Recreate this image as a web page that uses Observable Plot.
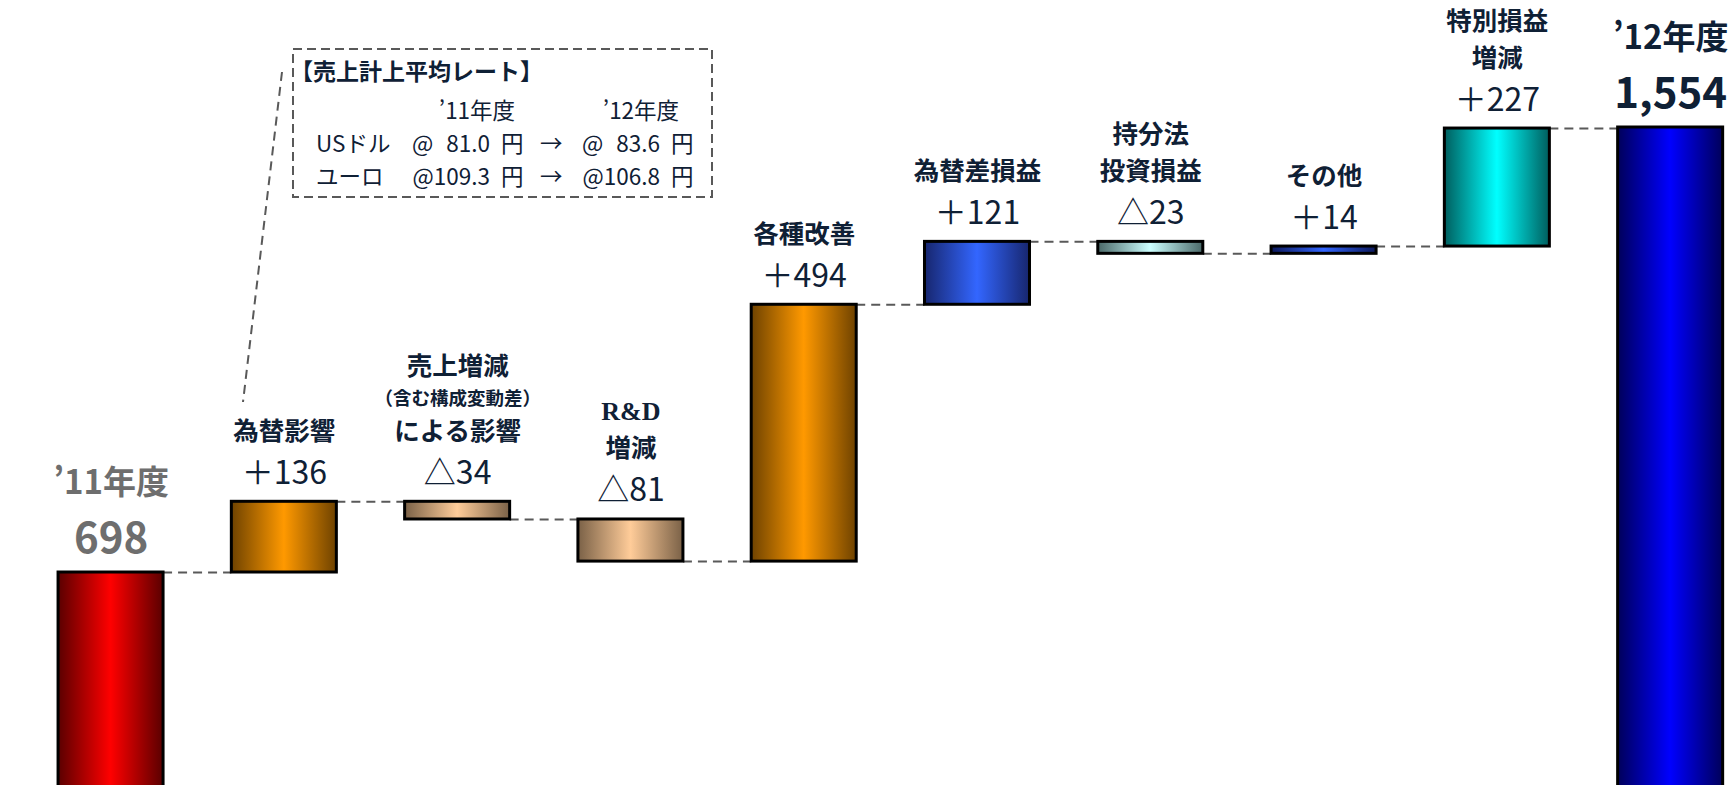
<!DOCTYPE html>
<html lang="ja">
<head>
<meta charset="utf-8">
<script src="https://cdn.jsdelivr.net/npm/d3@7"></script>
<script src="https://cdn.jsdelivr.net/npm/@observablehq/plot@0.6"></script>
<style>
  html, body { margin: 0; padding: 0; background: #fff; }
  #chart svg { display: block; }
</style>
</head>
<body>
<div id="chart"></div>
<script>
// ---- data ----
const startLabel = "’11年度";
const endLabel = "’12年度";
const startTotal = 698;
const endTotal = 1554;
const stepLabelLines = [
  ["為替影響"],
  ["売上増減", "（含む構成変動差）", "による影響"],
  ["R&D", "増減"],
  ["各種改善"],
  ["為替差損益"],
  ["持分法", "投資損益"],
  ["その他"],
  ["特別損益", "増減"]
];
const stepValues = [136, -34, -81, 494, 121, -23, 14, 227];

// annotation box texts
const boxTitle = "【売上計上平均レート】";
const boxYears = ["’11年度", "’12年度"];
const boxRows = [
  {name: "USドル", from: "81.0", to: "83.6"},
  {name: "ユーロ", from: "109.3", to: "106.8"}
];

// ---- styles ----
const barColors = [
  ["#5a0000", "#ff0000"],
  ["#6e4200", "#ff9900"],
  ["#7a6147", "#ffcc99"],
  ["#7a6147", "#ffcc99"],
  ["#6e4200", "#ff9900"],
  ["#17266e", "#3366ff"],
  ["#4a6868", "#ccffff"],
  ["#0c185a", "#3366ff"],
  ["#005e5e", "#00ffff"],
  ["#00005a", "#0000ff"]
];
const navy = "#0f2035";
const gray = "#6e6e6e";
const font = "'Noto Sans CJK JP', 'Noto Sans', sans-serif";
const serifFont = "'Liberation Serif', 'DejaVu Serif', serif";
const halfW = 0.303;

// ---- derived series ----
const rows = [];
let run = startTotal;
rows.push({i: 0, y1: 0, y2: startTotal, top: startTotal, end: startTotal, total: true, label: startLabel, color: gray});
stepValues.forEach((v, k) => {
  const s = run; run += v;
  rows.push({i: k + 1, y1: s, y2: run, top: Math.max(s, run), end: run, total: false, v});
});
rows.push({i: rows.length, y1: 0, y2: endTotal, top: endTotal, end: endTotal, total: true, label: endLabel, color: navy});
rows.forEach(r => { r.fill = `url(#grad${r.i})`; r.x1 = r.i - halfW; r.x2 = r.i + halfW; });

const connectors = rows.slice(0, -1).map(r => ({y: r.end, x1: r.i + halfW, x2: r.i + 1 - halfW}));
const stepRows = rows.filter(r => !r.total);
const totalRows = rows.filter(r => r.total);

const valueGap = 18, catGap = 44;
const lineRows = [];
stepRows.forEach((r, k) => {
  const lines = stepLabelLines[k];
  let off = -(valueGap + catGap);
  for (let j = lines.length - 1; j >= 0; j--) {
    const t = lines[j];
    const small = t.startsWith("（");
    const serif = /^[A-Za-z&]+$/.test(t);
    lineRows.push({i: r.i, top: r.top, text: t, off, small, serif});
    if (j > 0) {
      const nextSmall = lines[j - 1].startsWith("（");
      off -= nextSmall ? 35 : small ? 30 : 37;
    }
  }
});
const lineMarks = d3.groups(lineRows, d => `${d.off}|${d.small}|${d.serif}`).map(([key, data]) => {
  const d0 = data[0];
  return Plot.text(data, {
    x: "i", y: "top", text: "text", dy: d0.off, lineAnchor: "bottom",
    fontSize: d0.small ? 18.5 : d0.serif ? 26 : 25.5, fontWeight: "bold",
    fontFamily: d0.serif ? serifFont : font, fill: navy
  });
});

const fmtStep = v => v >= 0 ? `＋${v}` : `△${-v}`;

const chart = Plot.plot({
  width: 1736, height: 785,
  marginTop: 0, marginBottom: 0, marginLeft: 0, marginRight: 0,
  x: {domain: [-0.638, 9.38], axis: null},
  y: {domain: [288.3, 1798.3], axis: null},
  color: {type: "identity"},
  style: {background: "#fff"},
  marks: [
    Plot.ruleY(connectors, {y: "y", x1: "x1", x2: "x2", stroke: "#595959", strokeWidth: 2, strokeDasharray: "9,6"}),
    Plot.rectY(rows, {x1: "x1", x2: "x2", y1: "y1", y2: "y2", fill: "fill", stroke: "#000", strokeWidth: 3, clip: true}),
    Plot.text(stepRows, {x: "i", y: "top", text: d => fmtStep(d.v), dy: -valueGap, lineAnchor: "bottom", fontSize: 32, fontFamily: font, fill: navy}),
    ...lineMarks,
    Plot.text(totalRows, {x: "i", y: "top", text: d => d3.format(",")(d.y2), dy: -20, lineAnchor: "bottom", fontSize: 42, fontWeight: "bold", fontFamily: font, fill: "color"}),
    Plot.text(totalRows, {x: "i", y: "top", text: "label", dy: -79, lineAnchor: "bottom", fontSize: 33, fontWeight: "bold", fontFamily: font, fill: "color"})
  ]
});

// gradients
const svg = d3.select(chart);
const defs = svg.insert("defs", ":first-child");
rows.forEach(r => {
  const [dark, bright] = barColors[r.i];
  const g = defs.append("linearGradient").attr("id", `grad${r.i}`).attr("x1", "0").attr("x2", "1").attr("y1", "0").attr("y2", "0");
  g.append("stop").attr("offset", "0").attr("stop-color", dark);
  g.append("stop").attr("offset", "0.5").attr("stop-color", bright);
  g.append("stop").attr("offset", "1").attr("stop-color", dark);
});

// annotation box (rate note) with leader line
const ann = svg.append("g").attr("font-family", font).attr("fill", navy).attr("text-anchor", "start");
ann.append("line").attr("x1", 282).attr("y1", 72).attr("x2", 243).attr("y2", 402)
  .attr("stroke", "#595959").attr("stroke-width", 2).attr("stroke-dasharray", "9,6");
ann.append("rect").attr("x", 293).attr("y", 49).attr("width", 419).attr("height", 148)
  .attr("fill", "none").attr("stroke", "#595959").attr("stroke-width", 2).attr("stroke-dasharray", "9,5");
ann.append("text").attr("x", 290).attr("y", 80).attr("font-size", 23).attr("font-weight", "bold").attr("text-anchor", "start").text(boxTitle);
ann.append("text").attr("x", 477).attr("y", 119).attr("font-size", 22.5).attr("text-anchor", "middle").text(boxYears[0]);
ann.append("text").attr("x", 641).attr("y", 119).attr("font-size", 22.5).attr("text-anchor", "middle").text(boxYears[1]);
boxRows.forEach((r, k) => {
  const yb = 152 + k * 33;
  const at = (x, t, anchor = "start") => ann.append("text").attr("x", x).attr("y", yb).attr("font-size", 22.5).attr("text-anchor", anchor).text(t);
  at(316, r.name);
  if (r.from.length < 5) { at(412, "@"); at(490, r.from, "end"); } else { at(490, "@" + r.from, "end"); }
  at(501, "円");
  at(540, "→");
  if (r.to.length < 5) { at(582, "@"); at(660, r.to, "end"); } else { at(660, "@" + r.to, "end"); }
  at(671, "円");
});

document.getElementById("chart").appendChild(chart);
</script>
</body>
</html>
